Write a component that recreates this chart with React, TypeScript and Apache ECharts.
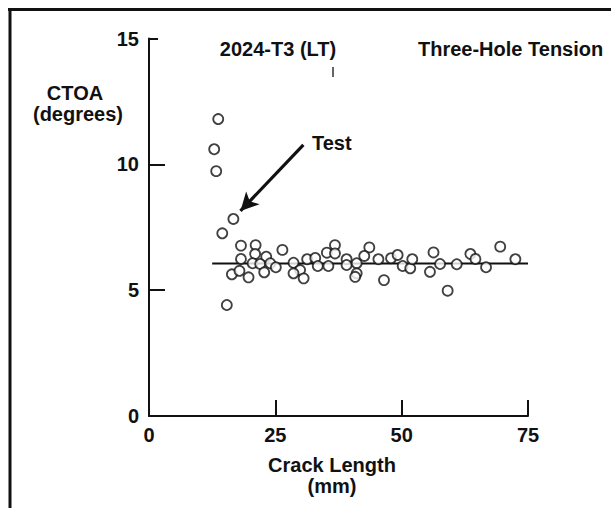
import React, { useEffect, useRef } from "react";
import * as echarts from "echarts";

// Crack length (mm) and CTOA (degrees) test points
const crackLength = [
  13.7, 12.9, 13.3, 16.7, 14.5, 15.4, 18.2, 21.1, 18.2, 21.0, 23.2, 20.5, 22.0, 24.0,
  25.1, 16.4, 17.9, 19.7, 22.8, 26.4, 28.6, 31.3, 32.9, 35.2, 36.8, 36.8, 33.4, 35.5,
  29.9, 28.6, 30.6, 39.1, 39.1, 41.1, 41.1, 40.8, 43.6, 42.6, 45.4, 47.9, 49.2, 50.2,
  51.7, 52.1, 46.5, 56.3, 57.6, 55.6, 59.1, 60.9, 63.6, 64.6, 66.7, 69.5, 72.5,
];
const ctoa = [
  11.8, 10.6, 9.73, 7.83, 7.26, 4.41, 6.77, 6.79, 6.24, 6.44, 6.33, 6.07, 6.04, 6.07,
  5.91, 5.63, 5.77, 5.51, 5.71, 6.6, 6.09, 6.23, 6.28, 6.49, 6.79, 6.46, 5.96, 5.96,
  5.8, 5.67, 5.47, 6.23, 6.0, 6.07, 5.67, 5.53, 6.7, 6.36, 6.23, 6.27, 6.4, 5.96,
  5.87, 6.23, 5.4, 6.5, 6.04, 5.73, 4.98, 6.03, 6.44, 6.24, 5.91, 6.73, 6.23,
];
// Mean CTOA line
const fitX = [12.5, 75];
const fitY = [6.06, 6.06];
// Arrow annotation (from, to) in data units
const arrowFrom = [30.55, 10.77];
const arrowTo = [18.1, 8.15];

const xTicks = [0, 25, 50, 75];
const yTicks = [0, 5, 10, 15];

const FONT = "'Liberation Sans', Arial, Helvetica, sans-serif";

export default function App() {
  const ref = useRef<HTMLDivElement>(null);
  useEffect(() => {
    if (!ref.current) return;
    const chart = echarts.init(ref.current, null, { renderer: "svg" });
    const txt = { fontFamily: FONT, fontWeight: "bold" as const, fontSize: 20, color: "#111" };
    const f = `bold 20px ${FONT}`;
    const option: any = {
      animation: false,
      backgroundColor: "#fff",
      grid: { left: 149, right: 83, top: 38.5, bottom: 92 },
      xAxis: {
        type: "value",
        min: xTicks[0],
        max: xTicks[xTicks.length - 1],
        interval: 25,
        axisLine: { show: true, lineStyle: { color: "#111", width: 2 } },
        axisTick: { show: true, inside: true, length: 16, lineStyle: { color: "#111", width: 2 } },
        axisLabel: { ...txt, margin: 9 },
        splitLine: { show: false },
      },
      yAxis: [
        {
          type: "value",
          min: yTicks[0],
          max: yTicks[yTicks.length - 1],
          interval: 5,
          axisLine: { show: true, lineStyle: { color: "#111", width: 2 } },
          axisTick: {
            show: true,
            inside: true,
            length: 16,
            customValues: [0, 5, 10],
            lineStyle: { color: "#111", width: 2 },
          },
          axisLabel: { ...txt, margin: 10 },
          splitLine: { show: false },
        },
        {
          type: "value",
          position: "left",
          min: yTicks[0],
          max: yTicks[yTicks.length - 1],
          interval: 5,
          axisLine: { show: false },
          axisTick: {
            show: true,
            inside: true,
            length: 9,
            customValues: [15],
            lineStyle: { color: "#111", width: 2 },
          },
          axisLabel: { show: false },
          splitLine: { show: false },
        },
      ],
      series: [
        {
          type: "line",
          data: fitX.map((x, i) => [x, fitY[i]]),
          symbol: "none",
          lineStyle: { color: "#111", width: 2 },
          z: 2,
          markLine: {
            silent: true,
            symbol: ["none", "arrow"],
            symbolSize: [14, 18],
            label: { show: false },
            lineStyle: { color: "#111", width: 3.2, type: "solid" },
            data: [[{ coord: arrowFrom }, { coord: arrowTo }]],
          },
        },
        {
          type: "scatter",
          data: crackLength.map((x, i) => [x, ctoa[i]]),
          symbol: "circle",
          symbolSize: 10,
          itemStyle: { color: "#fff", borderColor: "#111", borderWidth: 1.8 },
          z: 3,
        },
      ],
      graphic: [
        { type: "line", shape: { x1: 10, y1: 8, x2: 10, y2: 508 }, style: { stroke: "#111", lineWidth: 3 } },
        { type: "line", shape: { x1: 8, y1: 9.5, x2: 611, y2: 9.5 }, style: { stroke: "#111", lineWidth: 3 } },
        { type: "line", shape: { x1: 333, y1: 67, x2: 333, y2: 77 }, style: { stroke: "#333", lineWidth: 1.5 } },
        {
          type: "text",
          x: 278,
          y: 49,
          style: { text: "2024-T3 (LT)", font: f, fill: "#111", textAlign: "center", textVerticalAlign: "middle" },
        },
        {
          type: "text",
          x: 418,
          y: 49,
          style: { text: "Three-Hole Tension", font: f, fill: "#111", textAlign: "left", textVerticalAlign: "middle" },
        },
        {
          type: "text",
          x: 312,
          y: 143,
          style: { text: "Test", font: f, fill: "#111", textAlign: "left", textVerticalAlign: "middle" },
        },
        {
          type: "text",
          x: 75,
          y: 93,
          style: { text: "CTOA", font: f, fill: "#111", textAlign: "center", textVerticalAlign: "middle" },
        },
        {
          type: "text",
          x: 78,
          y: 114,
          style: { text: "(degrees)", font: f, fill: "#111", textAlign: "center", textVerticalAlign: "middle" },
        },
        {
          type: "text",
          x: 332,
          y: 465,
          style: { text: "Crack Length", font: f, fill: "#111", textAlign: "center", textVerticalAlign: "middle" },
        },
        {
          type: "text",
          x: 332,
          y: 486,
          style: { text: "(mm)", font: f, fill: "#111", textAlign: "center", textVerticalAlign: "middle" },
        },
      ],
    };
    chart.setOption(option);
    return () => chart.dispose();
  }, []);
  return (
    <div
      ref={ref}
      style={{ position: "fixed", left: 0, top: 0, width: 611, height: 508, background: "#fff" }}
    />
  );
}
